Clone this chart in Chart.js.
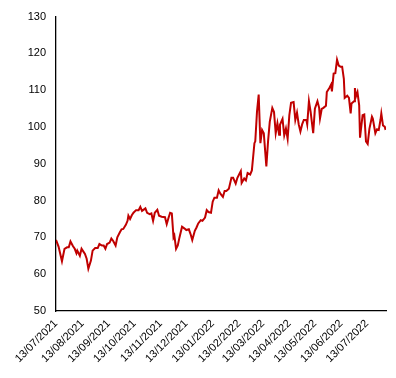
<!DOCTYPE html>
<html>
<head>
<meta charset="utf-8">
<script src="https://cdn.jsdelivr.net/npm/chart.js@4.4.1/dist/chart.umd.min.js"></script>
<style>
  html, body { margin: 0; padding: 0; background: #ffffff; }
  #wrap { position: relative; width: 396px; height: 378px; }
</style>
</head>
<body>
<div id="wrap"><canvas id="c" width="396" height="378"></canvas></div>
<script>
// Days elapsed since 13/07/2021
const days = [0,3,7,10,13,15,17,20,22,24,25,28,30,32,34,36,38,41,43,46,49,51,54,56,58,60,63,65,67,70,72,75,77,79,82,84,85,87,89,91,94,97,99,101,105,107,110,112,114,116,119,121,124,128,130,132,134,136,138,139,141,143,145,148,151,153,156,158,160,163,165,167,170,172,175,177,179,182,184,186,189,191,193,196,198,200,203,206,208,211,213,215,217,218,221,223,225,228,230,233,234,236,238,240,242,244,247,249,251,254,256,258,260,262,263,266,268,270,272,274,276,279,281,283,285,287,289,291,294,295,297,299,302,304,307,309,310,312,314,317,318,321,323,324,326,328,330,332,334,336,338,339,342,344,346,347,350,351,352,354,356,357,360,362,364,366,368,371,372,375,377,379,381,382,384,386,387];
const values = [69.3,67.5,63.5,66.9,67.3,67.3,68.9,67.6,66.9,65.7,66.4,65.0,66.9,66.2,65.5,64.2,61.5,63.7,66.4,67.1,67.1,68.2,67.8,67.8,66.9,68.2,68.6,69.7,69.1,67.8,70.0,71.4,72.2,72.3,73.4,74.5,75.9,75.0,76.0,76.7,77.4,77.4,78.3,77.2,77.9,76.7,76.3,76.5,74.5,76.7,77.5,75.9,75.6,75.5,73.6,75.2,76.7,76.5,70.0,70.5,66.9,67.8,70.0,72.9,72.4,72.0,72.2,70.9,69.3,71.8,72.7,73.8,74.7,74.5,75.4,77.4,76.9,76.7,79.7,80.8,80.8,82.8,81.9,81.0,82.6,82.6,83.2,86.2,86.2,84.6,86.2,87.1,88.0,84.8,86.0,85.5,87.5,87.1,88.2,95.6,96.1,104.1,108.8,95.6,99.2,98.3,89.3,96.1,101.4,105.2,104.1,98.3,101.0,97.9,100.6,102.2,97.7,99.6,96.8,103.2,106.6,106.8,101.9,103.9,100.7,98.8,100.7,101.9,101.9,100.7,107.0,104.1,98.3,105.0,107.0,105.2,102.3,104.9,105.2,105.8,109.5,110.6,111.5,109.7,114.5,114.6,118.3,116.7,116.4,116.4,113.1,107.9,108.5,107.9,103.7,106.4,107.0,110.6,108.2,109.5,105.9,97.1,103.2,103.4,96.1,95.4,99.5,102.8,102.3,98.3,99.4,99.2,101.9,103.7,100.4,100.1,99.2];
const tickLabels = ['13/07/2021','13/08/2021','13/09/2021','13/10/2021','13/11/2021','13/12/2021','13/01/2022','13/02/2022','13/03/2022','13/04/2022','13/05/2022','13/06/2022','13/07/2022'];
const yTicks = [50,60,70,80,90,100,110,120,130];

function dayOffset(label) {
  const p = label.split('/').map(Number);
  const base = Date.UTC(2021, 6, 13);
  return Math.round((Date.UTC(p[2], p[1] - 1, p[0]) - base) / 86400000);
}
const tickDays = tickLabels.map(dayOffset);
const points = days.map((d, i) => ({ x: d, y: values[i] }));

const FONT = { family: '"Liberation Sans", Arial, sans-serif', size: 11 };

new Chart(document.getElementById('c'), {
  type: 'line',
  data: {
    datasets: [{
      data: points,
      borderColor: '#C00000',
      borderWidth: 2,
      pointRadius: 0,
      tension: 0,
      fill: false
    }]
  },
  options: {
    responsive: false,
    animation: false,
    devicePixelRatio: 1,
    layout: { padding: { left: 0, right: 10, top: 14, bottom: 0 } },
    plugins: { legend: { display: false }, tooltip: { enabled: false } },
    scales: {
      x: {
        type: 'linear',
        min: 0,
        max: 387.5,
        grid: { display: false, drawTicks: false },
        border: { display: true, color: '#000000', width: 1.3 },
        afterBuildTicks: (s) => { s.ticks = tickDays.map(v => ({ value: v })); },
        afterFit: (s) => { s.height = 67; },
        ticks: {
          autoSkip: false,
          maxRotation: 45,
          minRotation: 45,
          padding: 6,
          color: '#000000',
          font: FONT,
          callback: (v) => { const i = tickDays.indexOf(v); return i >= 0 ? tickLabels[i] : ''; }
        }
      },
      y: {
        min: 50,
        max: 130,
        grid: { display: false, drawTicks: false },
        border: { display: true, color: '#000000', width: 1.3 },
        afterBuildTicks: (s) => { s.ticks = yTicks.map(v => ({ value: v })); },
        afterFit: (s) => { s.width = 56; },
        ticks: {
          padding: 10,
          color: '#000000',
          font: FONT,
          callback: (v) => String(v)
        }
      }
    }
  }
});
</script>
</body>
</html>
